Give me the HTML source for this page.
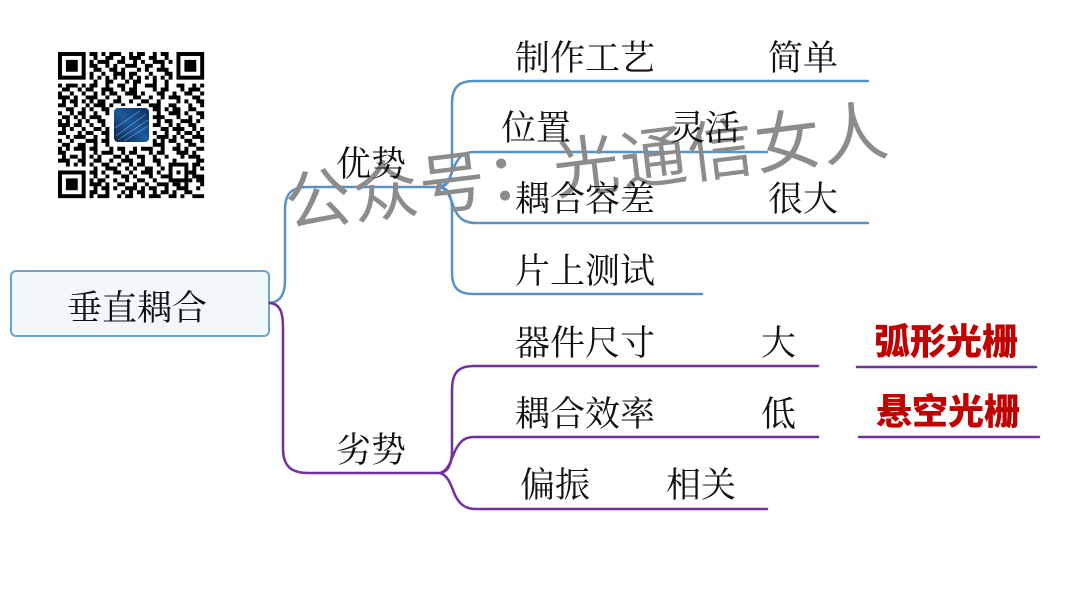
<!DOCTYPE html>
<html>
<head>
<meta charset="utf-8">
<style>
html,body{margin:0;padding:0;background:#fff;}
body{width:1080px;height:608px;overflow:hidden;}
svg{display:block;}
.t{font-family:"Liberation Serif","Noto Serif CJK SC",serif;font-size:35px;fill:#111;}
.r{font-family:"Liberation Sans","Noto Sans CJK SC",sans-serif;font-size:36px;font-weight:900;fill:#c00000;}
.wm{font-family:"Liberation Sans","Noto Sans CJK SC",sans-serif;font-size:66px;fill:#8c8c8c;letter-spacing:1.6px;}
</style>
</head>
<body>
<svg width="1080" height="608" viewBox="0 0 1080 608" xmlns="http://www.w3.org/2000/svg">
<defs>
<linearGradient id="lg" x1="0" y1="1" x2="1" y2="0">
<stop offset="0" stop-color="#0a1f45"/>
<stop offset="0.5" stop-color="#1d5a9c"/>
<stop offset="1" stop-color="#0e2c5c"/>
</linearGradient>
</defs>

<!-- QR code -->
<g transform="translate(58,52) scale(3.95)">
<g fill="#000">
<rect x="0" y="0" width="7" height="7"/><rect x="30" y="0" width="7" height="7"/><rect x="0" y="30" width="7" height="7"/>
<rect x="28" y="28" width="5" height="5"/>
</g>
<g fill="#fff">
<rect x="1" y="1" width="5" height="5"/><rect x="31" y="1" width="5" height="5"/><rect x="1" y="31" width="5" height="5"/>
<rect x="29" y="29" width="3" height="3"/>
</g>
<g fill="#000">
<rect x="2" y="2" width="3" height="3"/><rect x="32" y="2" width="3" height="3"/><rect x="2" y="32" width="3" height="3"/>
<rect x="30" y="30" width="1" height="1"/>
<path d="
M8 0h2v1h-2zM11 0h1v1h-1zM13 0h3v1h-3zM18 0h1v1h-1zM20 0h2v1h-2zM24 0h1v1h-1zM26 0h2v1h-2z
M9 1h1v1h-1zM12 1h2v1h-2zM16 1h1v1h-1zM18 1h3v1h-3zM23 1h2v1h-2zM27 1h1v1h-1z
M8 2h1v1h-1zM10 2h3v1h-3zM15 2h2v1h-2zM19 2h1v1h-1zM21 2h1v1h-1zM24 2h3v1h-3zM28 2h1v1h-1z
M8 3h2v1h-2zM12 3h1v1h-1zM14 3h1v1h-1zM17 3h3v1h-3zM22 3h2v1h-2zM26 3h1v1h-1z
M9 4h2v1h-2zM13 4h2v1h-2zM16 4h1v1h-1zM20 4h1v1h-1zM22 4h1v1h-1zM25 4h3v1h-3z
M8 5h1v1h-1zM11 5h1v1h-1zM14 5h3v1h-3zM18 5h2v1h-2zM23 5h1v1h-1zM27 5h2v1h-2z
M8 6h1v1h-1zM10 6h1v1h-1zM12 6h1v1h-1zM14 6h1v1h-1zM16 6h1v1h-1zM18 6h1v1h-1zM20 6h1v1h-1zM22 6h1v1h-1zM24 6h1v1h-1zM26 6h1v1h-1zM28 6h1v1h-1z
M9 7h1v1h-1zM12 7h2v1h-2zM17 7h1v1h-1zM19 7h2v1h-2zM24 7h1v1h-1zM27 7h1v1h-1z
M0 8h1v1h-1zM2 8h3v1h-3zM6 8h1v1h-1zM8 8h2v1h-2zM12 8h1v1h-1zM15 8h2v1h-2zM19 8h1v1h-1zM22 8h3v1h-3zM27 8h1v1h-1zM30 8h2v1h-2zM34 8h1v1h-1zM36 8h1v1h-1z
M1 9h2v1h-2zM5 9h1v1h-1zM7 9h2v1h-2zM11 9h3v1h-3zM16 9h1v1h-1zM18 9h2v1h-2zM24 9h1v1h-1zM26 9h2v1h-2zM31 9h1v1h-1zM33 9h3v1h-3z
M0 10h1v1h-1zM3 10h1v1h-1zM6 10h1v1h-1zM9 10h1v1h-1zM11 10h1v1h-1zM13 10h2v1h-2zM17 10h3v1h-3zM21 10h1v1h-1zM25 10h2v1h-2zM29 10h1v1h-1zM32 10h2v1h-2zM36 10h1v1h-1z
M0 11h3v1h-3zM4 11h1v1h-1zM7 11h3v1h-3zM12 11h1v1h-1zM15 11h1v1h-1zM19 11h2v1h-2zM23 11h1v1h-1zM26 11h1v1h-1zM28 11h3v1h-3zM34 11h2v1h-2z
M1 12h1v1h-1zM3 12h2v1h-2zM6 12h1v1h-1zM8 12h1v1h-1zM10 12h2v1h-2zM14 12h2v1h-2zM18 12h1v1h-1zM21 12h2v1h-2zM25 12h1v1h-1zM30 12h1v1h-1zM32 12h1v1h-1zM35 12h2v1h-2z
M0 13h2v1h-2zM4 13h1v1h-1zM7 13h1v1h-1zM9 13h3v1h-3zM13 13h1v1h-1zM16 13h1v1h-1zM20 13h1v1h-1zM23 13h3v1h-3zM28 13h2v1h-2zM33 13h1v1h-1zM36 13h1v1h-1z
M2 14h2v1h-2zM6 14h1v1h-1zM8 14h1v1h-1zM11 14h2v1h-2zM24 14h2v1h-2zM27 14h1v1h-1zM29 14h2v1h-2zM33 14h2v1h-2z
M0 15h1v1h-1zM3 15h1v1h-1zM5 15h2v1h-2zM9 15h1v1h-1zM12 15h1v1h-1zM25 15h1v1h-1zM28 15h3v1h-3zM32 15h1v1h-1zM35 15h2v1h-2z
M1 16h2v1h-2zM4 16h1v1h-1zM6 16h1v1h-1zM8 16h3v1h-3zM24 16h3v1h-3zM30 16h1v1h-1zM33 16h1v1h-1zM36 16h1v1h-1z
M0 17h1v1h-1zM2 17h1v1h-1zM5 17h1v1h-1zM7 17h1v1h-1zM10 17h2v1h-2zM25 17h1v1h-1zM27 17h2v1h-2zM31 17h3v1h-3zM35 17h1v1h-1z
M0 18h3v1h-3zM4 18h2v1h-2zM8 18h1v1h-1zM11 18h1v1h-1zM24 18h2v1h-2zM28 18h1v1h-1zM30 18h1v1h-1zM33 18h2v1h-2z
M1 19h1v1h-1zM3 19h1v1h-1zM6 19h1v1h-1zM9 19h2v1h-2zM12 19h1v1h-1zM26 19h2v1h-2zM29 19h3v1h-3zM34 19h1v1h-1zM36 19h1v1h-1z
M0 20h2v1h-2zM5 20h1v1h-1zM7 20h2v1h-2zM11 20h2v1h-2zM24 20h1v1h-1zM27 20h1v1h-1zM30 20h1v1h-1zM32 20h2v1h-2zM35 20h1v1h-1z
M2 21h1v1h-1zM4 21h2v1h-2zM6 21h1v1h-1zM9 21h1v1h-1zM12 21h1v1h-1zM25 21h3v1h-3zM29 21h1v1h-1zM31 21h1v1h-1zM34 21h3v1h-3z
M0 22h1v1h-1zM3 22h1v1h-1zM7 22h3v1h-3zM11 22h2v1h-2zM24 22h1v1h-1zM26 22h1v1h-1zM28 22h2v1h-2zM32 22h2v1h-2zM36 22h1v1h-1z
M1 23h2v1h-2zM5 23h2v1h-2zM9 23h1v1h-1zM12 23h1v1h-1zM24 23h3v1h-3zM30 23h1v1h-1zM33 23h2v1h-2z
M0 24h1v1h-1zM2 24h1v1h-1zM4 24h3v1h-3zM8 24h2v1h-2zM13 24h1v1h-1zM15 24h2v1h-2zM19 24h1v1h-1zM21 24h3v1h-3zM26 24h1v1h-1zM29 24h2v1h-2zM32 24h1v1h-1zM35 24h2v1h-2z
M0 25h2v1h-2zM6 25h1v1h-1zM9 25h1v1h-1zM11 25h3v1h-3zM16 25h1v1h-1zM18 25h2v1h-2zM23 25h1v1h-1zM25 25h2v1h-2zM30 25h3v1h-3zM34 25h1v1h-1z
M1 26h1v1h-1zM3 26h2v1h-2zM6 26h1v1h-1zM8 26h1v1h-1zM10 26h1v1h-1zM14 26h2v1h-2zM17 26h1v1h-1zM20 26h2v1h-2zM24 26h1v1h-1zM27 26h1v1h-1zM31 26h1v1h-1zM33 26h3v1h-3z
M0 27h3v1h-3zM5 27h2v1h-2zM9 27h2v1h-2zM13 27h1v1h-1zM16 27h3v1h-3zM21 27h1v1h-1zM24 27h2v1h-2zM29 27h1v1h-1zM35 27h2v1h-2z
M2 28h1v1h-1zM4 28h1v1h-1zM6 28h1v1h-1zM8 28h1v1h-1zM11 28h2v1h-2zM15 28h1v1h-1zM18 28h1v1h-1zM20 28h2v1h-2zM25 28h1v1h-1zM34 28h2v1h-2z
M9 29h1v1h-1zM12 29h3v1h-3zM17 29h1v1h-1zM19 29h1v1h-1zM22 29h2v1h-2zM26 29h1v1h-1zM34 29h1v1h-1zM36 29h1v1h-1z
M8 30h2v1h-2zM11 30h1v1h-1zM14 30h2v1h-2zM18 30h1v1h-1zM21 30h3v1h-3zM25 30h1v1h-1zM33 30h2v1h-2z
M9 31h1v1h-1zM12 31h1v1h-1zM16 31h2v1h-2zM19 31h1v1h-1zM23 31h1v1h-1zM26 31h2v1h-2zM34 31h3v1h-3z
M8 32h1v1h-1zM10 32h2v1h-2zM14 32h1v1h-1zM17 32h1v1h-1zM20 32h2v1h-2zM24 32h1v1h-1zM33 32h1v1h-1zM35 32h2v1h-2z
M8 33h3v1h-3zM12 33h1v1h-1zM15 33h2v1h-2zM19 33h1v1h-1zM22 33h1v1h-1zM25 33h3v1h-3zM29 33h2v1h-2zM32 33h1v1h-1zM36 33h1v1h-1z
M9 34h1v1h-1zM11 34h2v1h-2zM14 34h1v1h-1zM17 34h3v1h-3zM21 34h1v1h-1zM23 34h2v1h-2zM27 34h1v1h-1zM30 34h3v1h-3zM35 34h1v1h-1z
M8 35h2v1h-2zM12 35h1v1h-1zM16 35h1v1h-1zM18 35h1v1h-1zM20 35h2v1h-2zM24 35h1v1h-1zM26 35h2v1h-2zM29 35h1v1h-1zM32 35h2v1h-2z
M8 36h1v1h-1zM10 36h3v1h-3zM15 36h1v1h-1zM17 36h2v1h-2zM21 36h1v1h-1zM23 36h3v1h-3zM28 36h2v1h-2zM31 36h1v1h-1zM34 36h3v1h-3z"/>
</g>
</g>
<!-- QR logo -->
<rect x="112" y="106" width="39" height="38" rx="5" fill="#fff"/>
<rect x="114" y="108" width="35" height="34" rx="4" fill="url(#lg)"/>
<g stroke="#7fb4e6" stroke-width="0.7" opacity="0.8">
<line x1="116" y1="136" x2="146" y2="114"/>
<line x1="118" y1="140" x2="148" y2="120"/>
<line x1="115" y1="128" x2="140" y2="111"/>
<line x1="124" y1="141" x2="148" y2="126"/>
</g>

<!-- Root node -->
<rect x="11" y="271" width="258" height="65" rx="5" fill="#f2f7fc" stroke="#6aa3d3" stroke-width="2"/>

<!-- Blue connectors -->
<g fill="none" stroke="#5592c6" stroke-width="2.5" stroke-linecap="round">
<path d="M270,303 C280,302 285,295 285,280 L285,210 C285,193 292,187 308,187 L440,187"/>
<path d="M440,187 C448,186 452,178 452,165 L452,104 C452,88 458,81 474,81 L868,81"/>
<path d="M440,187 C450,184 452,170 456,163 C460,156 464,152 474,152 L767,152"/>
<path d="M440,187 C450,190 452,205 456,212 C460,219 465,223 476,223 L868,223"/>
<path d="M440,187 C448,188 452,196 452,210 L452,272 C452,288 458,294 474,294 L702,294"/>
</g>

<!-- Purple connectors -->
<g fill="none" stroke="#7030a0" stroke-width="2.5" stroke-linecap="round">
<path d="M270,303 C280,304 283,312 283,328 L283,448 C283,465 290,473 308,473 L440,473"/>
<path d="M440,473 C448,472 452,464 452,450 L452,390 C452,373 458,366 474,366 L818,366"/>
<path d="M440,473 C450,470 452,456 456,449 C460,442 464,437 474,437 L818,437"/>
<path d="M440,473 C450,476 452,490 456,497 C460,504 465,509 476,509 L767,509"/>
<path d="M857,367 L1036,367"/>
<path d="M859,437 L1039,437"/>
</g>

<!-- Watermark -->
<text class="wm" x="288" y="227" transform="rotate(-7 288 227)">公众号：光通信女人</text>

<!-- Labels -->
<text class="t" x="67" y="320">垂直耦合</text>
<text class="t" x="336" y="176">优势</text>
<text class="t" x="336" y="462">劣势</text>

<text class="t" x="515" y="70">制作工艺</text>
<text class="t" x="768" y="70">简单</text>
<text class="t" x="501" y="140">位置</text>
<text class="t" x="670" y="140">灵活</text>
<text class="t" x="515" y="211">耦合容差</text>
<text class="t" x="768" y="211">很大</text>
<text class="t" x="515" y="283">片上测试</text>

<text class="t" x="515" y="355">器件尺寸</text>
<text class="t" x="761" y="355">大</text>
<text class="t" x="515" y="426">耦合效率</text>
<text class="t" x="761" y="426">低</text>
<text class="t" x="520" y="497">偏振</text>
<text class="t" x="666" y="497">相关</text>

<text class="r" x="874" y="354">弧形光栅</text>
<text class="r" x="876" y="424">悬空光栅</text>
</svg>
</body>
</html>
